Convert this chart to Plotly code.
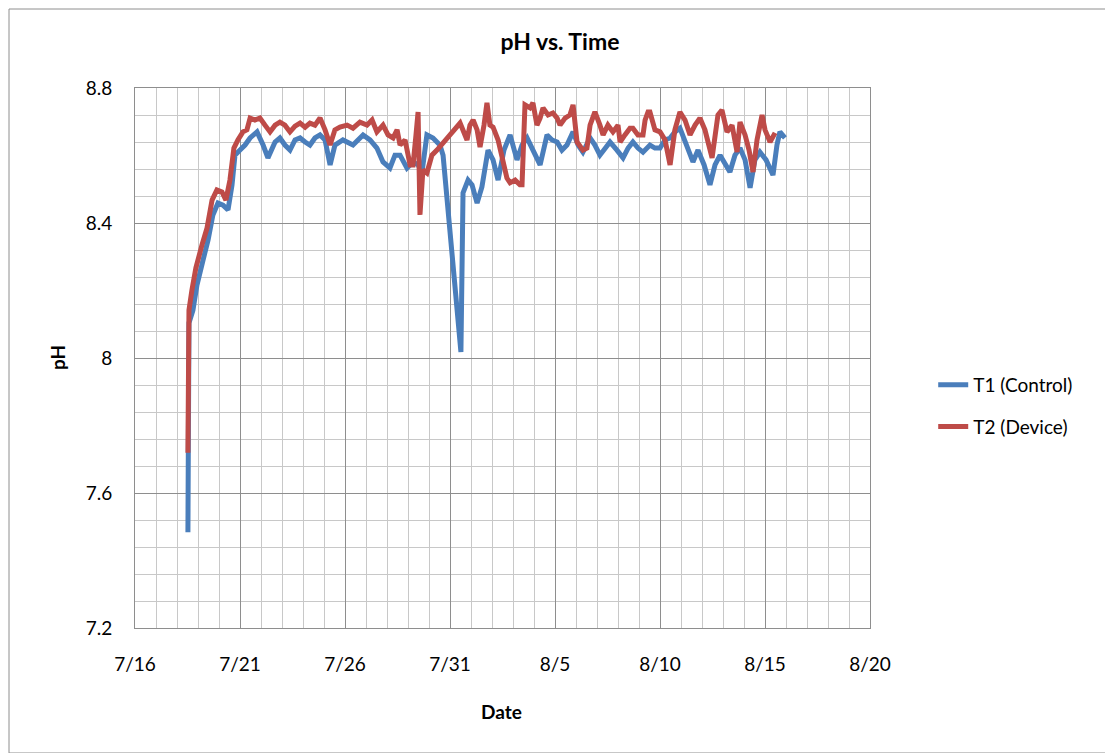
import pandas as pd
import plotly.graph_objects as go

START = "2013-07-16"

# elapsed days since 7/16 00:00 and pH readings
t1_days = [2.52, 2.57, 2.76, 2.95, 3.24, 3.48, 3.71, 3.95, 4.19, 4.43, 4.62, 4.76, 5.00, 5.24, 5.48,
           5.81, 6.10, 6.33, 6.67, 6.90, 7.14, 7.38, 7.62, 7.86, 8.10, 8.33, 8.57, 8.81, 9.05, 9.29,
           9.52, 9.90, 10.38, 10.86, 11.19, 11.52, 11.81, 12.14, 12.38, 12.62, 12.95, 13.24, 13.48,
           13.67, 13.90, 14.19, 14.52, 14.67, 15.52, 15.62, 15.86, 16.05, 16.29, 16.52, 16.81, 17.05,
           17.29, 17.57, 17.86, 18.19, 18.43, 18.67, 18.95, 19.29, 19.62, 19.86, 20.10, 20.33, 20.57,
           20.86, 21.10, 21.33, 21.67, 21.90, 22.14, 22.38, 22.62, 22.95, 23.24, 23.48, 23.71, 23.95,
           24.19, 24.52, 24.76, 25.00, 25.24, 25.48, 25.71, 25.95, 26.24, 26.57, 26.81, 27.10, 27.38,
           27.62, 27.86, 28.10, 28.33, 28.57, 28.81, 29.05, 29.29, 29.52, 29.76, 30.05, 30.38, 30.57,
           30.71, 30.95]
t1_ph = [7.484, 8.104, 8.142, 8.216, 8.290, 8.350, 8.424, 8.459, 8.453, 8.439, 8.513, 8.601, 8.616,
         8.631, 8.652, 8.670, 8.631, 8.593, 8.640, 8.652, 8.631, 8.616, 8.646, 8.652, 8.640, 8.631,
         8.652, 8.661, 8.646, 8.572, 8.631, 8.646, 8.631, 8.661, 8.646, 8.622, 8.581, 8.563, 8.601,
         8.601, 8.563, 8.581, 8.572, 8.551, 8.661, 8.652, 8.631, 8.601, 8.018, 8.489, 8.527, 8.513,
         8.459, 8.507, 8.616, 8.587, 8.527, 8.616, 8.661, 8.587, 8.631, 8.652, 8.616, 8.572, 8.661,
         8.646, 8.640, 8.616, 8.631, 8.670, 8.631, 8.610, 8.652, 8.631, 8.601, 8.622, 8.640, 8.616,
         8.593, 8.622, 8.640, 8.622, 8.610, 8.631, 8.622, 8.622, 8.646, 8.652, 8.670, 8.681, 8.631,
         8.581, 8.616, 8.572, 8.513, 8.572, 8.601, 8.572, 8.551, 8.601, 8.622, 8.587, 8.504, 8.587,
         8.610, 8.587, 8.542, 8.631, 8.670, 8.652]

t2_days = [2.52, 2.57, 2.71, 2.90, 3.19, 3.43, 3.67, 3.90, 4.14, 4.33, 4.52, 4.71, 4.90, 5.14, 5.33,
           5.48, 5.71, 5.95, 6.19, 6.43, 6.67, 6.90, 7.14, 7.38, 7.62, 7.86, 8.10, 8.33, 8.57, 8.81,
           9.05, 9.29, 9.52, 9.76, 10.10, 10.38, 10.71, 11.05, 11.29, 11.52, 11.81, 12.05, 12.29,
           12.48, 12.62, 12.86, 13.10, 13.24, 13.38, 13.48, 13.57, 13.71, 13.90, 14.14, 14.38, 14.52,
           15.00, 15.48, 15.62, 15.81, 15.95, 16.10, 16.29, 16.43, 16.62, 16.76, 16.90, 17.05, 17.29,
           17.52, 17.71, 17.86, 18.10, 18.33, 18.43, 18.57, 18.81, 18.95, 19.14, 19.29, 19.43, 19.67,
           19.90, 20.10, 20.24, 20.48, 20.71, 20.86, 21.05, 21.33, 21.52, 21.67, 21.90, 22.14, 22.29,
           22.52, 22.76, 23.00, 23.10, 23.33, 23.57, 23.71, 23.95, 24.19, 24.29, 24.43, 24.52, 24.76,
           25.00, 25.24, 25.48, 25.71, 25.95, 26.19, 26.43, 26.67, 26.90, 27.14, 27.48, 27.76, 27.95,
           28.19, 28.43, 28.67, 28.81, 29.05, 29.24, 29.43, 29.62, 29.86, 30.00, 30.24, 30.48]
t2_ph = [7.719, 8.142, 8.201, 8.267, 8.335, 8.385, 8.468, 8.498, 8.492, 8.468, 8.527, 8.622, 8.646,
         8.670, 8.676, 8.711, 8.705, 8.711, 8.690, 8.670, 8.690, 8.699, 8.690, 8.670, 8.687, 8.696,
         8.684, 8.696, 8.690, 8.711, 8.676, 8.631, 8.676, 8.684, 8.690, 8.681, 8.699, 8.690, 8.705,
         8.670, 8.690, 8.661, 8.652, 8.676, 8.631, 8.646, 8.572, 8.572, 8.661, 8.729, 8.424, 8.557,
         8.548, 8.601, 8.616, 8.625, 8.661, 8.696, 8.676, 8.646, 8.690, 8.705, 8.676, 8.625, 8.690,
         8.756, 8.690, 8.684, 8.646, 8.578, 8.533, 8.519, 8.527, 8.513, 8.513, 8.750, 8.741, 8.756,
         8.690, 8.711, 8.741, 8.720, 8.726, 8.711, 8.690, 8.711, 8.720, 8.750, 8.640, 8.616, 8.622,
         8.690, 8.729, 8.690, 8.661, 8.690, 8.670, 8.690, 8.640, 8.661, 8.681, 8.681, 8.661, 8.661,
         8.705, 8.729, 8.729, 8.676, 8.670, 8.646, 8.572, 8.676, 8.729, 8.705, 8.661, 8.690, 8.711,
         8.676, 8.593, 8.720, 8.735, 8.670, 8.690, 8.610, 8.699, 8.661, 8.616, 8.551, 8.646, 8.720,
         8.676, 8.640, 8.667]

series_names = ["T1 (Control)", "T2 (Device)"]
series_colors = ["#4A7EBB", "#BE4B48"]

x_ticks = ["7/16", "7/21", "7/26", "7/31", "8/5", "8/10", "8/15", "8/20"]

base = pd.Timestamp(START)
to_dates = lambda days: [base + pd.Timedelta(days=d) for d in days]

FONT = "Lato, Carlito, Calibri, sans-serif"
fig = go.Figure()
for name, color, days, vals in [
    (series_names[0], series_colors[0], t1_days, t1_ph),
    (series_names[1], series_colors[1], t2_days, t2_ph),
]:
    fig.add_trace(go.Scatter(x=to_dates(days), y=vals, mode="lines", name=name,
                             legendgroup=name,
                             line=dict(color=color, width=5)))

# page has an 8px body offset; figure sized to fit the 1113x753 window
W, H = 1105, 745
L, T, PW, PH = 127, 80, 735, 540
DAY = 86400000
tickvals = [base + pd.Timedelta(days=5 * i) for i in range(len(x_ticks))]
fig.update_layout(
    width=W, height=H,
    paper_bgcolor="white", plot_bgcolor="white",
    margin=dict(l=L, r=W - L - PW, t=T, b=H - T - PH, pad=0),
    font=dict(family=FONT, size=19, color="#000000"),
    title=dict(text="<b>pH vs. Time</b>", x=(560 - 135) / PW, xref="paper", y=1 - 34 / H,
               yref="container", xanchor="center", yanchor="middle",
               font=dict(size=23, family=FONT)),
    showlegend=True,
    legend=dict(x=1.086, y=(628 - 406) / PH, xanchor="left", yanchor="middle",
                font=dict(size=19, family=FONT), tracegroupgap=14,
                bgcolor="rgba(0,0,0,0)"),
    xaxis=dict(
        type="date", range=[base, base + pd.Timedelta(days=35)],
        tickmode="array", tickvals=tickvals, ticktext=x_ticks,
        showgrid=True, gridcolor="#8E8E8E", gridwidth=1,
        minor=dict(dtick=DAY, tick0=START, showgrid=True, gridcolor="#C8C8C8", gridwidth=1),
        showline=True, linecolor="#8E8E8E", linewidth=1, mirror=True,
        ticks="", ticklabelstandoff=19, zeroline=False,
        tickfont=dict(size=19, family=FONT),
    ),
    yaxis=dict(
        range=[7.2, 8.8], tick0=7.2, dtick=0.4,
        showgrid=True, gridcolor="#8E8E8E", gridwidth=1,
        minor=dict(dtick=0.08, tick0=7.2, showgrid=True, gridcolor="#C8C8C8", gridwidth=1),
        showline=True, linecolor="#8E8E8E", linewidth=1, mirror=True,
        ticks="", ticklabelstandoff=18, zeroline=False,
        tickfont=dict(size=19, family=FONT),
    ),
    annotations=[
        dict(text="<b>Date</b>", x=(501 - 135) / PW, y=(628 - 711) / PH, xref="paper", yref="paper",
             showarrow=False, xanchor="center", yanchor="middle", font=dict(size=19, family=FONT)),
        dict(text="<b>pH</b>", x=(57 - 135) / PW, y=0.5, xref="paper", yref="paper",
             showarrow=False, xanchor="center", yanchor="middle", textangle=-90,
             font=dict(size=19, family=FONT)),
    ],
    shapes=[
        dict(type="rect", xref="paper", yref="paper",
             x0=(-7 - 127 + 127) / PW - 0.0, x1=(1102 - 127) / PW,
             y0=(620 - 745) / PH, y1=(620 - 0) / PH,
             line=dict(color="#8E8E8E", width=1), fillcolor="rgba(0,0,0,0)", layer="below"),
    ],
)
# fix border rect to figure edges (paper coords relative to plot area)
fig.layout.shapes[0].x0 = (1 - L) / PW
fig.layout.shapes[0].y1 = (T + PH - 1) / PH

fig.write_html("out.html")
